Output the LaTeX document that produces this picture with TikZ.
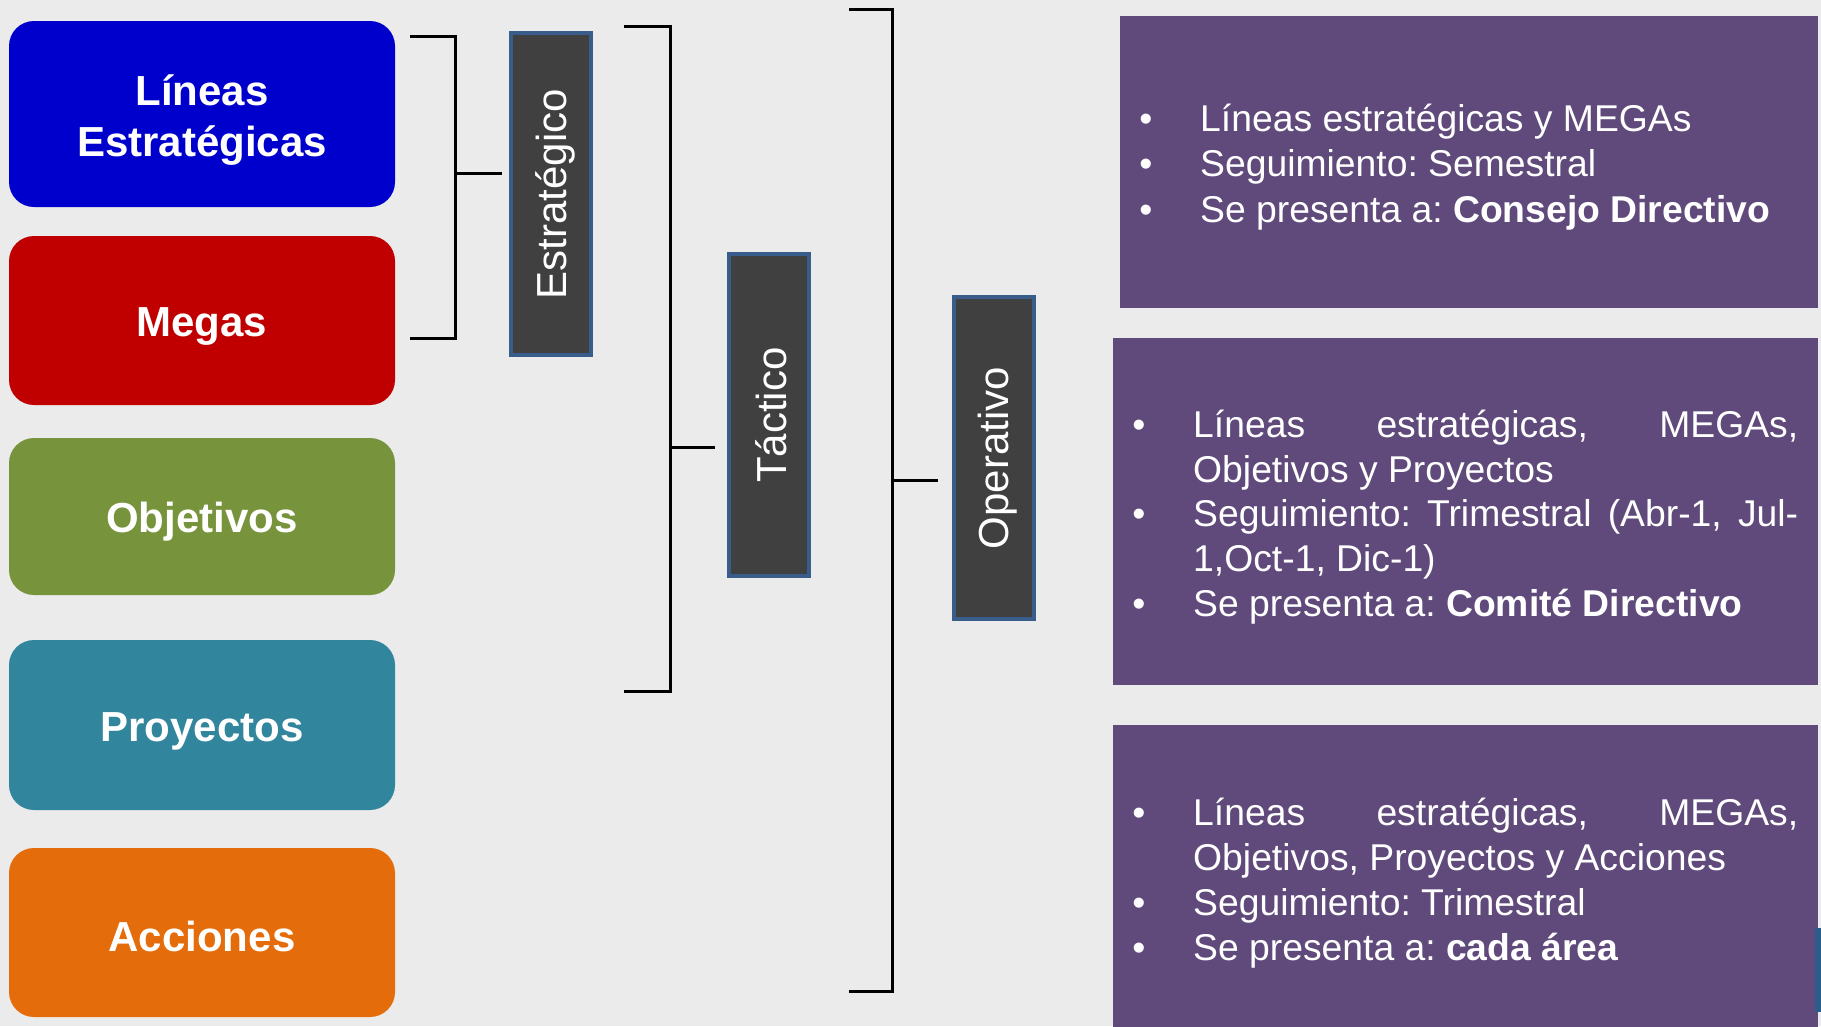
\documentclass[tikz,border=0pt]{standalone}
\usepackage{fontspec}
\setmainfont{Liberation Sans}
\frenchspacing
\definecolor{bg}{HTML}{EBEBEB}
\definecolor{cblue}{HTML}{0000CC}
\definecolor{cred}{HTML}{C00000}
\definecolor{cgreen}{HTML}{77933C}
\definecolor{cteal}{HTML}{31859C}
\definecolor{corange}{HTML}{E46C0A}
\definecolor{lvlfill}{HTML}{404040}
\definecolor{lvlborder}{HTML}{385D8A}
\definecolor{infopurple}{HTML}{604A7B}
\definecolor{stripblue}{HTML}{2A5C8C}
\begin{document}
\begin{tikzpicture}[x=1pt,y=-1pt,
  leftbox/.style={rounded corners=25pt, minimum width=386pt, inner sep=0pt},
  lefttext/.style={text=white, font=\fontsize{42}{51}\selectfont\bfseries, align=center, inner sep=0pt},
  levelbox/.style={draw=lvlborder, line width=4pt, fill=lvlfill,
    minimum width=80pt, minimum height=322pt, inner sep=0pt},
  leveltext/.style={rotate=90, text=white, font=\fontsize{42}{50}\selectfont, inner sep=0pt},
  bracket/.style={draw=black, line width=3pt},
  infobox/.style={fill=infopurple, inner sep=0pt, anchor=north west},
  bul/.style={anchor=base, text=white, font=\fontsize{37.3}{45}\selectfont, inner sep=0pt},
  infoline/.style={anchor=base west, text=white, font=\fontsize{37.3}{45}\selectfont, inner sep=0pt}
]
\fill[bg] (0,0) rectangle (1821,1026);
\useasboundingbox (0,0) rectangle (1821,1026);

% left boxes
\node[leftbox, fill=cblue, minimum height=186pt] (lineas) at (202,114) {};
\node[lefttext] (lineastxt) at ([yshift=-6pt]lineas.center) {Líneas\\Estratégicas};
\node[leftbox, fill=cred, minimum height=169pt] (megas) at (202,320.5) {};
\node[lefttext] (megastxt) at ([yshift=-6pt]megas.center) {Megas};
\node[leftbox, fill=cgreen, minimum height=157pt] (objetivos) at (202,516.5) {};
\node[lefttext] (objetivostxt) at ([yshift=-5pt]objetivos.center) {Objetivos};
\node[leftbox, fill=cteal, minimum height=170pt] (proyectos) at (202,725) {};
\node[lefttext] (proyectostxt) at ([yshift=-6pt]proyectos.center) {Proyectos};
\node[leftbox, fill=corange, minimum height=169pt] (acciones) at (202,932.5) {};
\node[lefttext] (accionestxt) at ([yshift=-4pt]acciones.center) {Acciones};

% level boxes
\node[levelbox] (estr) at (550.5,194) {};
\node[leveltext] (estrtxt) at ([xshift=5pt]estr.center) {Estratégico};
\node[levelbox] (tact) at (769,415) {};
\node[leveltext] (tacttxt) at ([xshift=2pt]tact.center) {Táctico};
\node[levelbox] (oper) at (994,458) {};
\node[leveltext] (opertxt) at ([xshift=4pt]oper.center) {Operativo};

% brackets
\coordinate (b1top) at (410,36);
\coordinate (b1bot) at (410,338);
\coordinate (b1mid) at (455,173);
\draw[bracket] (b1top) -| (b1mid) |- (b1bot);
\draw[bracket, shorten >=7pt] (b1mid) -- (b1mid -| estr.west);

\coordinate (b2top) at (624,26);
\coordinate (b2bot) at (624,691);
\coordinate (b2mid) at (670,447);
\draw[bracket] (b2top) -| (b2mid) |- (b2bot);
\draw[bracket, shorten >=12pt] (b2mid) -- (b2mid -| tact.west);

\coordinate (b3top) at (849,9);
\coordinate (b3bot) at (849,991);
\coordinate (b3mid) at (892,480);
\draw[bracket] (b3top) -| (b3mid) |- (b3bot);
\draw[bracket, shorten >=14pt] (b3mid) -- (b3mid -| oper.west);

% info boxes
\node[infobox, minimum width=698pt, minimum height=292pt] (info1) at (1120,16) {};
\node[infobox, minimum width=705pt, minimum height=347pt] (info2) at (1113,338) {};
\node[infobox, minimum width=705pt, minimum height=305pt] (info3) at (1113,725) {};
\fill[stripblue] (1815,928) rectangle (1821,1012);

% info 1 text
\node[bul] (i1b1) at (1146,131) {•};
\node[infoline] (i1l1) at (1200,131) {Líneas estratégicas y MEGAs};
\node[bul] (i1b2) at (1146,176) {•};
\node[infoline] (i1l2) at (1200,176) {Seguimiento: Semestral};
\node[bul] (i1b3) at (1146,222) {•};
\node[infoline] (i1l3) at (1200,222) {Se presenta a: \textbf{Consejo Directivo}};

% info 2 text
\node[bul] (i2b1) at (1139,437) {•};
\node[infoline] (i2l1) at (1193,437) {\makebox[605pt][s]{Líneas\hfill estratégicas,\hfill MEGAs,}};
\node[infoline] (i2l2) at (1193,482) {Objetivos y Proyectos};
\node[bul] (i2b2) at (1139,526) {•};
\node[infoline] (i2l3) at (1193,526) {\makebox[605pt][s]{Seguimiento:\hfill Trimestral\hfill (Abr-1,\hfill Jul-}};
\node[infoline] (i2l4) at (1193,571) {1,Oct-1, Dic-1)};
\node[bul] (i2b3) at (1139,616) {•};
\node[infoline] (i2l5) at (1193,616) {Se presenta a: \textbf{Comité Directivo}};

% info 3 text
\node[bul] (i3b1) at (1139,825) {•};
\node[infoline] (i3l1) at (1193,825) {\makebox[605pt][s]{Líneas\hfill estratégicas,\hfill MEGAs,}};
\node[infoline] (i3l2) at (1193,870) {Objetivos, Proyectos y Acciones};
\node[bul] (i3b2) at (1139,915) {•};
\node[infoline] (i3l3) at (1193,915) {Seguimiento: Trimestral};
\node[bul] (i3b3) at (1139,960) {•};
\node[infoline] (i3l4) at (1193,960) {Se presenta a: \textbf{cada área}};
\end{tikzpicture}
\end{document}
